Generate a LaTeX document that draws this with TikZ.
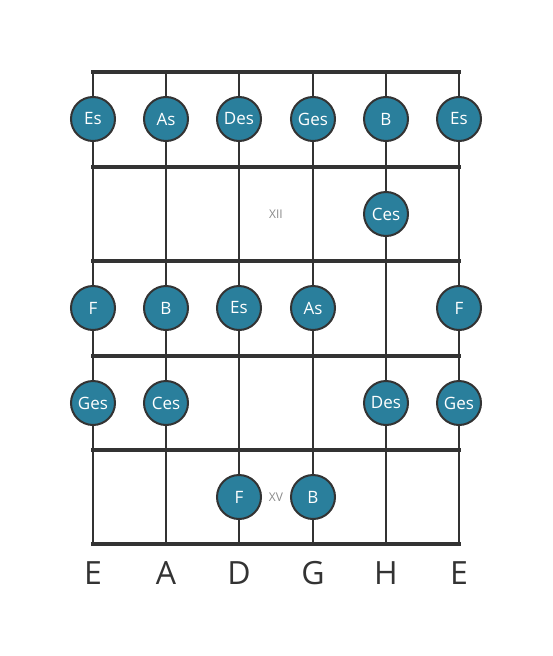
\documentclass[tikz,border=0pt]{standalone}
\usepackage{fontspec}
\setmainfont{Open Sans}
\usetikzlibrary{positioning}

\definecolor{fretboard}{HTML}{333333}
\definecolor{notefill}{HTML}{2A7F9C}
\definecolor{markgray}{HTML}{8A8A8A}

\begin{document}
\begin{tikzpicture}[x=1pt, y=-1pt, line cap=butt,
    note/.style={circle, draw=fretboard, line width=2pt, fill=notefill,
        minimum size=44pt, inner sep=0pt, text=white, font=\fontsize{17}{17}\selectfont},
    fretline/.style={fretboard, line width=4.5pt},
    stringline/.style={fretboard, line width=2.5pt},
    fretmark/.style={text=markgray, font=\fontsize{12}{12}\selectfont},
    stringname/.style={text=fretboard, font=\fontsize{32}{32}\selectfont}]

    % Canvas
    \useasboundingbox (0,0) rectangle (553,656);

    % Strings
    \foreach \s/\x in {1/93, 2/166, 3/239, 4/313, 5/386, 6/459}
        \draw[stringline] (\x,72) -- (\x,544);

    % Frets
    \foreach \y in {72, 167, 261, 356, 450, 544}
        \draw[fretline] (91,\y) -- (461,\y);

    % Fret markers
    \node[fretmark] (mark12) at (276,214) {XII};
    \node[fretmark] (mark15) at (276,497) {XV};

    % Notes (string/row/name)
    \foreach \s/\x/\n in {1/93/Es, 2/166/As, 3/239/Des, 4/313/Ges, 5/386/B, 6/459/Es}
        \node[note] (n1s\s) at (\x,119) {\n};
    \node[note] (n2s5) at (386,214) {Ces};
    \foreach \s/\x/\n in {1/93/F, 2/166/B, 3/239/Es, 4/313/As, 6/459/F}
        \node[note] (n3s\s) at (\x,308) {\n};
    \foreach \s/\x/\n in {1/93/Ges, 2/166/Ces, 5/386/Des, 6/459/Ges}
        \node[note] (n4s\s) at (\x,403) {\n};
    \foreach \s/\x/\n in {3/239/F, 4/313/B}
        \node[note] (n5s\s) at (\x,497) {\n};

    % String names
    \foreach \s/\x/\n in {1/93/E, 2/166/A, 3/239/D, 4/313/G, 5/386/H, 6/459/E}
        \node[stringname] (name\s) at (\x,573) {\n};
\end{tikzpicture}
\end{document}
